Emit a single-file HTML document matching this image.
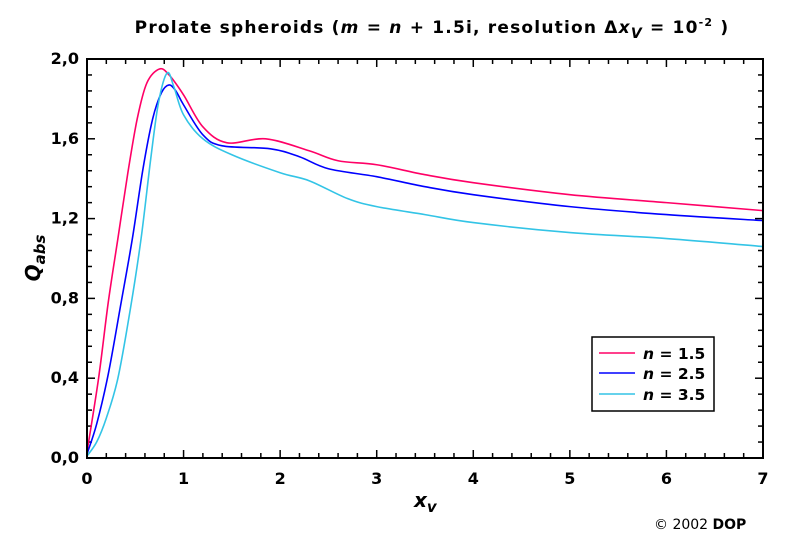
<!DOCTYPE html>
<html><head><meta charset="utf-8"><style>
body{margin:0;background:#fff;}
svg{display:block;font-family:"DejaVu Sans","Liberation Sans",sans-serif;}
</style></head><body>
<svg id="s" width="786" height="545" viewBox="0 0 786 545">
<rect width="786" height="545" fill="#fff"/>
<text x="432" y="33" text-anchor="middle" font-size="17" font-weight="bold" letter-spacing="1.2">Prolate spheroids (<tspan font-style="italic">m</tspan> = <tspan font-style="italic">n</tspan> + 1.5i, resolution Δ<tspan font-style="italic">x</tspan><tspan font-style="italic" font-size="14" dy="5">V</tspan><tspan dy="-5"> = 10</tspan><tspan font-size="11" dy="-7">-2</tspan><tspan dy="7"> )</tspan></text>
<g id="ax"></g>
<g id="curves" fill="none" stroke-width="1.6"></g>
<rect x="87" y="59" width="676" height="399" fill="none" stroke="#000" stroke-width="2"/>
<rect x="592" y="337" width="122" height="74" fill="#fff" stroke="#000" stroke-width="1.5"/>
<line x1="599" y1="353" x2="635" y2="353" stroke="#ff0066" stroke-width="1.6"/>
<line x1="599" y1="373" x2="635" y2="373" stroke="#0000ff" stroke-width="1.6"/>
<line x1="599" y1="394" x2="635" y2="394" stroke="#33c4e6" stroke-width="1.6"/>
<g font-size="15.5" font-weight="bold">
<text x="643" y="359"><tspan font-style="italic">n</tspan> = 1.5</text>
<text x="643" y="379"><tspan font-style="italic">n</tspan> = 2.5</text>
<text x="643" y="400"><tspan font-style="italic">n</tspan> = 3.5</text>
</g>
<text x="40" y="258" transform="rotate(-90 40 258)" text-anchor="middle" font-size="20" font-weight="bold" font-style="italic">Q<tspan font-size="15" dy="5">abs</tspan></text>
<text x="414" y="507" font-size="20" font-weight="bold" font-style="italic">x<tspan font-size="15" dy="5">v</tspan></text>
<text x="654" y="529" font-size="14">© 2002  <tspan font-weight="bold">DOP</tspan></text>
</svg>
<script>
var X=function(v){return 87+v*96.57},Y=function(v){return 458-v*199.5};
var ax=document.getElementById('ax'),h='';
for(var i=0;i<=35;i++){var x=X(i*0.2),L=(i%5==0)?8:5;h+='<line x1="'+x+'" y1="458" x2="'+x+'" y2="'+(458-L)+'" stroke="#000" stroke-width="1.5"/><line x1="'+x+'" y1="59" x2="'+x+'" y2="'+(59+L)+'" stroke="#000" stroke-width="1.5"/>';
 if(i%5==0)h+='<text x="'+x+'" y="484" text-anchor="middle" font-size="16" font-weight="bold">'+(i/5)+'</text>';}
for(var j=0;j<=25;j++){var y=Y(j*0.08),L=(j%5==0)?8:5;h+='<line x1="87" y1="'+y+'" x2="'+(87+L)+'" y2="'+y+'" stroke="#000" stroke-width="1.5"/><line x1="763" y1="'+y+'" x2="'+(763-L)+'" y2="'+y+'" stroke="#000" stroke-width="1.5"/>';
 if(j%5==0)h+='<text x="79" y="'+(y+5)+'" text-anchor="end" font-size="16" font-weight="bold">'+(j*0.08).toFixed(1).replace('.',',')+'</text>';}
ax.innerHTML=h;
function path(p){var q=p.map(function(a){return [X(a[0]),Y(a[1])]});var d='M'+q[0][0]+','+q[0][1];
for(var i=0;i<q.length-1;i++){var p0=q[i-1]||q[i],p1=q[i],p2=q[i+1],p3=q[i+2]||p2;
d+=' C'+(p1[0]+(p2[0]-p0[0])/6)+','+(p1[1]+(p2[1]-p0[1])/6)+' '+(p2[0]-(p3[0]-p1[0])/6)+','+(p2[1]-(p3[1]-p1[1])/6)+' '+p2[0]+','+p2[1];}return d;}
var C={
'#ff0066':[[0,0.03],[0.12,0.4],[0.22,0.78],[0.32,1.1],[0.42,1.42],[0.52,1.7],[0.62,1.88],[0.75,1.95],[0.85,1.92],[1,1.82],[1.2,1.66],[1.45,1.58],[1.85,1.6],[2.3,1.54],[2.6,1.49],[3,1.47],[3.5,1.42],[4,1.38],[5,1.32],[6,1.28],[7,1.24]],
'#0000ff':[[0,0.02],[0.1,0.17],[0.22,0.42],[0.35,0.77],[0.47,1.1],[0.58,1.45],[0.68,1.7],[0.77,1.83],[0.85,1.87],[0.92,1.84],[1,1.77],[1.2,1.62],[1.4,1.565],[1.9,1.55],[2.2,1.51],[2.5,1.45],[3,1.41],[3.5,1.36],[4,1.32],[5,1.26],[6,1.22],[7,1.19]],
'#33c4e6':[[0,0.01],[0.1,0.08],[0.2,0.2],[0.32,0.4],[0.45,0.75],[0.56,1.1],[0.66,1.5],[0.74,1.78],[0.83,1.93],[0.9,1.86],[1,1.72],[1.2,1.6],[1.5,1.52],[2,1.43],[2.3,1.39],[2.7,1.3],[3,1.26],[3.5,1.22],[4,1.18],[5,1.13],[6,1.1],[7,1.06]]};
var g=document.getElementById('curves'),s='';for(var k in C)s+='<path d="'+path(C[k])+'" stroke="'+k+'"/>';g.innerHTML=s;
</script>
</body></html>
